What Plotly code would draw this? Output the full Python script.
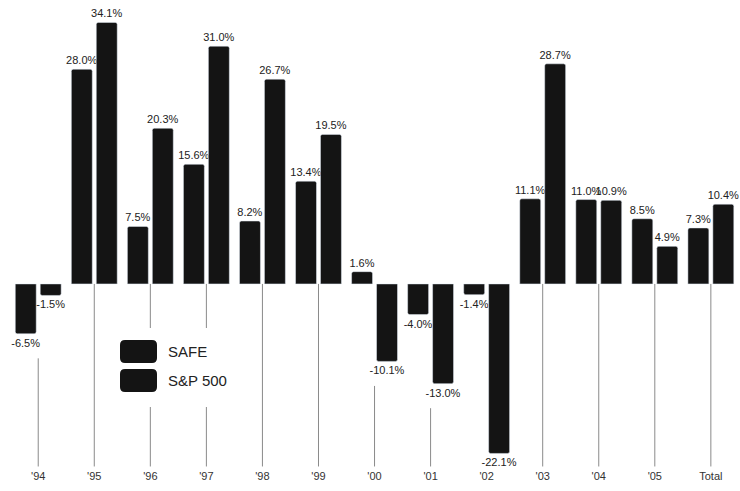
import plotly.graph_objects as go

years = ["'94", "'95", "'96", "'97", "'98", "'99", "'00", "'01", "'02", "'03", "'04", "'05", "Total"]
safe = [-6.5, 28.0, 7.5, 15.6, 8.2, 13.4, 1.6, -4.0, -1.4, 11.1, 11.0, 8.5, 7.3]
sp500 = [-1.5, 34.1, 20.3, 31.0, 26.7, 19.5, -10.1, -13.0, -22.1, 28.7, 10.9, 4.9, 10.4]

W, H = 740, 491
ML, MR, MT, MB = 13, 0, 4, 23
Y0, Y1 = -24.0, 36.5
X0, X1 = -0.45, 12.52
PW, PH = W - ML - MR, H - MT - MB

FONT = "Liberation Sans, Arial, sans-serif"
BAR = "#141414"

def px(x):
    return (x - ML) / PW

def py(y):
    return (MT + PH - y) / PH

def pct(v):
    return [f"{x:.1f}%" for x in v]

fig = go.Figure()
fig.add_trace(go.Bar(x=list(range(len(years))), y=safe, name="SAFE", marker=dict(color=BAR, cornerradius=2),
                     text=pct(safe), textposition="outside", constraintext="none", cliponaxis=False,
                     textfont=dict(family=FONT, size=11, color="#222")))
fig.add_trace(go.Bar(x=list(range(len(years))), y=sp500, name="S&P 500", marker=dict(color=BAR, cornerradius=2),
                     text=pct(sp500), textposition="outside", constraintext="none", cliponaxis=False,
                     textfont=dict(family=FONT, size=11, color="#222")))

# thin guide lines from the bottom up to the bars (or below the negative labels)
lx, ly = [], []
bottom = -23.8
for i in range(len(years)):
    lo = min(0, safe[i], sp500[i])
    top = 0 if lo == 0 else lo - 3.2
    if top > bottom:
        lx += [i, i, None]
        ly += [bottom, top, None]
fig.add_trace(go.Scatter(x=lx, y=ly, mode="lines", line=dict(color="#8a8a8a", width=1),
                         hoverinfo="skip", showlegend=False))

shapes = [
    dict(type="rect", xref="paper", yref="paper", x0=px(112), x1=px(232), y0=py(407), y1=py(328),
         fillcolor="white", line=dict(width=0), layer="above"),
]
def rrect(x0, y0, x1, y1, r=5):
    return dict(type="path", xref="paper", yref="paper", layer="above", fillcolor=BAR, line=dict(width=0),
                path=(f"M {px(x0+r)},{py(y0)} L {px(x1-r)},{py(y0)} Q {px(x1)},{py(y0)} {px(x1)},{py(y0+r)} "
                      f"L {px(x1)},{py(y1-r)} Q {px(x1)},{py(y1)} {px(x1-r)},{py(y1)} "
                      f"L {px(x0+r)},{py(y1)} Q {px(x0)},{py(y1)} {px(x0)},{py(y1-r)} "
                      f"L {px(x0)},{py(y0+r)} Q {px(x0)},{py(y0)} {px(x0+r)},{py(y0)} Z"))
shapes.append(rrect(120, 340, 157, 363))
shapes.append(rrect(120, 369, 157, 392))

annotations = [
    dict(xref="paper", yref="paper", x=px(166), y=py(351.5), text="SAFE", showarrow=False,
         xanchor="left", yanchor="middle", font=dict(family=FONT, size=15, color="#222")),
    dict(xref="paper", yref="paper", x=px(166), y=py(380.5), text="S&P 500", showarrow=False,
         xanchor="left", yanchor="middle", font=dict(family=FONT, size=15, color="#222")),
]

fig.update_layout(
    width=W, height=H,
    margin=dict(l=ML, r=MR, t=MT, b=MB),
    paper_bgcolor="white", plot_bgcolor="white",
    barmode="group", bargap=0.11, bargroupgap=0.16,
    showlegend=False,
    shapes=shapes, annotations=annotations,
    xaxis=dict(tickmode="array", tickvals=list(range(len(years))), ticktext=years,
               range=[X0, X1], showgrid=False, zeroline=False, showline=False, ticks="",
               tickfont=dict(family=FONT, size=11, color="#333")),
    yaxis=dict(range=[Y0, Y1], visible=False, showgrid=False, zeroline=False),
)

fig.write_html("out.html")
